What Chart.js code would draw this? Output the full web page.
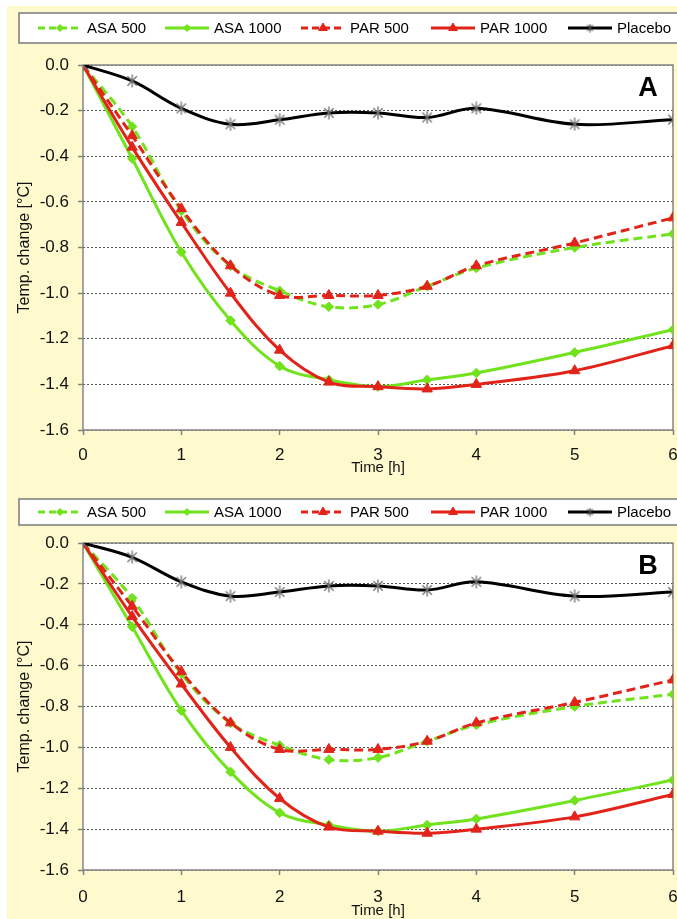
<!DOCTYPE html>
<html><head><meta charset="utf-8">
<script src="https://cdn.jsdelivr.net/npm/chart.js@4.4.1/dist/chart.umd.min.js"></script>
<style>
html,body{margin:0;padding:0;background:#fff;overflow:hidden;width:677px;height:919px;}
#wrap{position:absolute;left:7px;top:6px;width:700px;height:913px;background:#FFFACD;}
.c{position:absolute;left:0;width:690px;}
#ca{top:0;height:472px;}
#cb{top:472px;height:441px;}
</style></head>
<body>
<div id="wrap">
  <div class="c" id="ca"><canvas id="chartA"></canvas></div>
  <div class="c" id="cb"><canvas id="chartB"></canvas></div>
</div>
<script>
// ---- data ----
const times   = [0, 0.5, 1, 1.5, 2, 2.5, 3, 3.5, 4, 5, 6];
const asa500  = [0, -0.27, -0.64, -0.88, -0.99, -1.06, -1.05, -0.97, -0.89, -0.80, -0.74];
const asa1000 = [0, -0.41, -0.82, -1.12, -1.32, -1.38, -1.41, -1.38, -1.35, -1.26, -1.16];
const par500  = [0, -0.31, -0.63, -0.88, -1.01, -1.01, -1.01, -0.97, -0.88, -0.78, -0.67];
const par1000 = [0, -0.36, -0.69, -1.00, -1.25, -1.39, -1.41, -1.42, -1.40, -1.34, -1.23];
const placebo = [0, -0.07, -0.19, -0.26, -0.24, -0.21, -0.21, -0.23, -0.19, -0.26, -0.24];
const seriesNames = ['ASA 500', 'ASA 1000', 'PAR 500', 'PAR 1000', 'Placebo'];
const panelLabels = ['A', 'B'];
const xTitle = 'Time [h]';
const yTitle = 'Temp. change [°C]';

const FONT = "'Liberation Sans', Arial, sans-serif";
Chart.defaults.font.family = FONT;
const GREEN = '#70E31C', RED = '#E2231A';

function asterisk(size, color, lw) {
  const c = document.createElement('canvas');
  c.width = c.height = size;
  const g = c.getContext('2d');
  g.strokeStyle = color; g.lineWidth = lw; g.lineCap = 'butt';
  const m = size / 2, r = size / 2 - 0.5, d = r * 0.72;
  g.beginPath();
  g.moveTo(m, m - r); g.lineTo(m, m + r);
  g.moveTo(m - d, m - d); g.lineTo(m + d, m + d);
  g.moveTo(m + d, m - d); g.lineTo(m - d, m + d);
  g.stroke();
  return c;
}
const starBig = asterisk(14, '#707070', 1.3);
const starSmall = asterisk(9, '#444', 1.1);

function series(label, vals, color, dash, style, radius, order, legendStyle, legendRadius) {
  return {
    label, data: times.map((t, i) => ({x: t, y: vals[i]})),
    borderColor: color, backgroundColor: color, borderWidth: 3, borderDash: dash,
    pointStyle: style, pointRadius: radius, pointBorderWidth: 1,
    pointBorderColor: color, pointBackgroundColor: color,
    tension: 0.35, order, legendStyle, legendRadius
  };
}
function buildDatasets() {
  return [
    series(seriesNames[0], asa500, GREEN, [9, 5], 'rectRot', 4.8, 5, 'rectRot', 3.5),
    series(seriesNames[1], asa1000, GREEN, [], 'rectRot', 4.8, 4, 'rectRot', 3.5),
    series(seriesNames[2], par500, RED, [9, 5], 'triangle', 6, 3, 'triangle', 5),
    series(seriesNames[3], par1000, RED, [], 'triangle', 6, 2, 'triangle', 5),
    Object.assign(series(seriesNames[4], placebo, '#000', [], starBig, 7, 1, starSmall, 4),
      {pointBorderColor: '#707070', pointBackgroundColor: '#707070'})
  ];
}

const decor = {
  id: 'decor',
  beforeDraw(chart) {
    const {ctx, chartArea: a} = chart;
    ctx.save(); ctx.fillStyle = '#fff';
    ctx.fillRect(a.left, a.top, a.right - a.left, a.bottom - a.top);
    ctx.restore();
  },
  beforeDatasetsDraw(chart) {
    const {ctx, chartArea: a} = chart;
    ctx.save(); ctx.strokeStyle = '#858585'; ctx.lineWidth = 1.5;
    ctx.strokeRect(a.left, a.top, a.right - a.left, a.bottom - a.top);
    ctx.restore();
  },
  afterDraw(chart, args, o) {
    const {ctx, chartArea: a} = chart;
    ctx.save();
    // legend box
    ctx.fillStyle = '#fff'; ctx.strokeStyle = '#7a7a7a'; ctx.lineWidth = 1.5;
    ctx.fillRect(o.box[0], o.box[1], o.box[2], o.box[3]);
    ctx.strokeRect(o.box[0], o.box[1], o.box[2], o.box[3]);
    const cy = o.box[1] + o.box[3] / 2;
    chart.data.datasets.forEach((ds, i) => {
      const sx = o.sx[i], len = 44;
      ctx.save();
      ctx.strokeStyle = ds.borderColor; ctx.lineWidth = 3;
      ctx.setLineDash(ds.borderDash.length ? [7, 4] : []);
      ctx.beginPath(); ctx.moveTo(sx, cy); ctx.lineTo(sx + len, cy); ctx.stroke();
      ctx.setLineDash([]);
      ctx.fillStyle = ds.borderColor; ctx.strokeStyle = ds.borderColor; ctx.lineWidth = 1;
      Chart.helpers.drawPoint(ctx, {pointStyle: ds.legendStyle, radius: ds.legendRadius, borderWidth: 1, rotation: 0}, sx + len / 2, cy);
      ctx.restore();
      ctx.fillStyle = '#000'; ctx.font = '15px ' + FONT;
      ctx.textAlign = 'left'; ctx.textBaseline = 'middle';
      ctx.fillText(ds.label, sx + len + 5, cy + 1);
    });
    // panel letter
    ctx.fillStyle = '#000'; ctx.font = 'bold 27px ' + FONT;
    ctx.textAlign = 'center'; ctx.textBaseline = 'middle';
    ctx.fillText(o.letter, a.right - 25, a.top + 24);
    ctx.restore();
  }
};

function makeChart(id, cfg) {
  return new Chart(document.getElementById(id), {
    type: 'line',
    data: {datasets: buildDatasets()},
    plugins: [decor],
    options: {
      responsive: true, maintainAspectRatio: false, animation: false,
      layout: {padding: {top: cfg.top, right: 24, left: 0, bottom: 0}},
      plugins: {legend: {display: false}, tooltip: {enabled: false},
        decor: {box: cfg.box, sx: [31, 158, 294, 424, 561], letter: cfg.letter}},
      scales: {
        x: {
          type: 'linear', min: 0, max: 6,
          ticks: {stepSize: 1, color: '#111', font: {size: 17}, padding: cfg.xpad},
          grid: {drawOnChartArea: false, drawTicks: true, tickLength: 5, tickColor: '#808080', tickWidth: 1.5},
          border: {display: false},
          title: {display: true, text: xTitle, color: '#111', font: {size: 15}, padding: {top: 0, bottom: cfg.tpad}},
          afterFit(s) { s.height = cfg.xh; }
        },
        y: {
          min: -1.6, max: 0,
          ticks: {stepSize: 0.2, color: '#111', font: {size: 17}, padding: 9,
            callback: v => (Math.abs(v) < 1e-9 ? 0 : v).toFixed(1)},
          grid: {color: '#555', lineWidth: 1, drawTicks: true, tickLength: 5, tickColor: '#808080', tickWidth: 1.5, tickBorderDash: []},
          border: {display: false, dash: [2, 2]},
          title: {display: true, text: yTitle, color: '#111', font: {size: 16}, padding: {top: 8, bottom: 0}},
          afterFit(s) { s.width = 76; }
        }
      }
    }
  });
}

makeChart('chartA', {top: 59, xh: 48, xpad: 10, tpad: 1, box: [12, 7, 680, 30], letter: panelLabels[0]});
makeChart('chartB', {top: 65, xh: 49, xpad: 12, tpad: -1, box: [12, 21, 680, 26], letter: panelLabels[1]});
</script>
</body></html>
